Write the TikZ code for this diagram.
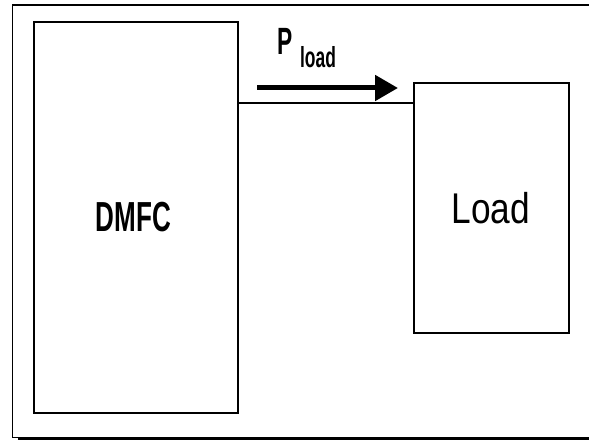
\documentclass[tikz,border=0pt]{standalone}
\usepackage{fontspec}
\setmainfont{Liberation Sans}
\usetikzlibrary{arrows.meta}
\begin{document}
\begin{tikzpicture}[x=1pt,y=1pt,
  blockbox/.style={draw=black, line width=1.5pt, fill=white, inner sep=0pt},
  bigtext/.style={inner sep=0pt, anchor=base, font=\fontsize{42}{42}\selectfont},
  wire/.style={draw=black, line width=1.5pt},
  flow/.style={draw=black, line width=5pt, -{Triangle[length=23pt,width=25pt]}}]
\useasboundingbox (0,0) rectangle (589,441);
\fill[white] (0,0) rectangle (589,441);
% outer frame
\draw[line width=1.3pt] (589,436) -- (12.5,436) -- (12.5,3);
\draw[line width=1pt] (12.5,3.5) -- (589,3.5);
\draw[line width=3pt] (18,2) -- (589,2);
% blocks
\node[blockbox, minimum width=204pt, minimum height=391pt] (dmfc) at (136,223.5) {};
\node[blockbox, minimum width=155pt, minimum height=250pt] (load) at (491.5,233) {};
\node[bigtext, font=\fontsize{42}{42}\selectfont\bfseries, xscale=0.62] (dmfclabel) at (133.5,209) {DMFC};
\node[bigtext, font=\fontsize{43}{43}\selectfont, xscale=0.82] (loadlabel) at (491,217) {Load};
% connector
\coordinate (cw) at (300,338);
\draw[wire] (dmfc.east |- cw) -- (load.west |- cw);
% power arrow
\coordinate (as) at (257,353);
\coordinate (ae) at (398,353);
\draw[flow] (as) -- (ae);
\node[inner sep=0pt, anchor=base west, font=\fontsize{38}{38}\selectfont\bfseries, xscale=0.6] (plabel) at (277,386) {P};
\node[inner sep=0pt, anchor=base west, font=\fontsize{29}{29}\selectfont\bfseries, xscale=0.6] (psub) at (300,373) {load};
\end{tikzpicture}
\end{document}
